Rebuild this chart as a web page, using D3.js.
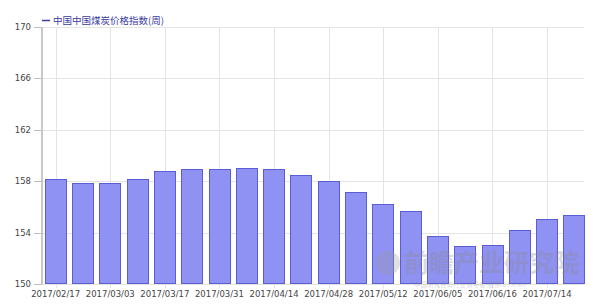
<!DOCTYPE html>
<html>
<head>
<meta charset="utf-8">
<script src="https://cdn.jsdelivr.net/npm/d3@7"></script>
<style>
  body { margin: 0; background: #fff; }
  svg { display: block; font-family: "DejaVu Sans", Verdana, sans-serif; }
</style>
</head>
<body>
<div id="chart"></div>
<script>
const dates = ["2017/02/17", "2017/02/24", "2017/03/03", "2017/03/10", "2017/03/17", "2017/03/24",
    "2017/03/31", "2017/04/07", "2017/04/14", "2017/04/21", "2017/04/28", "2017/05/05",
    "2017/05/12", "2017/05/19", "2017/06/05", "2017/06/09", "2017/06/16", "2017/06/30",
    "2017/07/14", "2017/07/21"];
const values = [158.15, 157.86, 157.86, 158.15, 158.77, 158.95, 158.94, 159.05, 158.94, 158.46,
    158.04, 157.13, 156.25, 155.66, 153.76, 152.96, 153.03, 154.23, 155.08, 155.35];
const xTickLabels = ["2017/02/17", "2017/03/03", "2017/03/17", "2017/03/31", "2017/04/14",
    "2017/04/28", "2017/05/12", "2017/06/05", "2017/06/16", "2017/07/14"];
const yTicks = [150, 154, 158, 162, 166, 170];
const seriesName = "中国中国煤炭价格指数(周)";

const WIDTH = 600, HEIGHT = 308;
const MARGIN = { top: 27, right: 12, bottom: 24, left: 42 };

const svg = d3.select("#chart")
    .append("svg")
    .attr("width", WIDTH)
    .attr("height", HEIGHT);

const x = d3.scaleBand()
    .domain(dates)
    .range([MARGIN.left, WIDTH - MARGIN.right])
    .paddingInner(0.2)
    .paddingOuter(0.1);

const y = d3.scaleLinear()
    .domain([150, 170])
    .range([HEIGHT - MARGIN.bottom, MARGIN.top]);

// horizontal grid
svg.append("g")
    .selectAll("line")
    .data(yTicks)
    .enter()
    .append("line")
    .attr("x1", MARGIN.left)
    .attr("x2", WIDTH - MARGIN.right - 4)
    .attr("y1", d => Math.round(y(d)) + 0.5)
    .attr("y2", d => Math.round(y(d)) + 0.5)
    .attr("stroke", "#e4e4e4");

// vertical grid at labelled dates
svg.append("g")
    .selectAll("line")
    .data(xTickLabels)
    .enter()
    .append("line")
    .attr("x1", d => Math.round(x(d) + x.bandwidth() / 2) + 0.5)
    .attr("x2", d => Math.round(x(d) + x.bandwidth() / 2) + 0.5)
    .attr("y1", MARGIN.top)
    .attr("y2", HEIGHT - MARGIN.bottom + 4)
    .attr("stroke", "#e4e4e4");

// bars
svg.append("g")
    .selectAll("rect")
    .data(values)
    .enter()
    .append("rect")
    .attr("x", (d, i) => Math.round(x(dates[i])) + 0.5)
    .attr("y", d => Math.round(y(d)) + 0.5)
    .attr("width", Math.round(x.bandwidth()) - 1)
    .attr("height", d => y(150) - Math.round(y(d)) - 1)
    .attr("fill", "#8f92f2")
    .attr("stroke", "#5a5ed4")
    .attr("stroke-width", 1);

// watermark, drawn over the bars
const wm = svg.append("g").attr("opacity", 0.3);
wm.append("circle")
    .attr("cx", 388)
    .attr("cy", 263)
    .attr("r", 12)
    .attr("fill", "#9a9a9a");
wm.append("text")
    .attr("x", 404)
    .attr("y", 272)
    .attr("font-family", "Noto Sans CJK SC")
    .attr("font-size", 25)
    .attr("font-weight", "bold")
    .attr("fill", "#8a8a8a")
    .text("前瞻产业研究院");
wm.append("text")
    .attr("x", 414)
    .attr("y", 287)
    .attr("font-family", "Noto Sans CJK SC")
    .attr("font-size", 6.5)
    .attr("fill", "#8a8a8a")
    .text("中国研究咨询行业领导者(股票:835090)");

// y axis
const yAxis = svg.append("g");
yAxis.append("line")
    .attr("x1", MARGIN.left)
    .attr("x2", MARGIN.left)
    .attr("y1", MARGIN.top)
    .attr("y2", HEIGHT - MARGIN.bottom)
    .attr("stroke", "#c8c8c8")
    .attr("stroke-width", 2);
yAxis.selectAll(".tick")
    .data(yTicks)
    .enter()
    .append("line")
    .attr("x1", MARGIN.left - 8)
    .attr("x2", MARGIN.left)
    .attr("y1", d => Math.round(y(d)) + 0.5)
    .attr("y2", d => Math.round(y(d)) + 0.5)
    .attr("stroke", "#c0c0c0");
yAxis.selectAll("text")
    .data(yTicks)
    .enter()
    .append("text")
    .attr("x", MARGIN.left - 11)
    .attr("y", d => y(d) + 3)
    .attr("text-anchor", "end")
    .attr("font-size", 8.5)
    .attr("fill", "#444")
    .text(d => d);

// x axis labels
svg.append("g")
    .selectAll("text")
    .data(xTickLabels)
    .enter()
    .append("text")
    .attr("x", d => x(d) + x.bandwidth() / 2)
    .attr("y", HEIGHT - MARGIN.bottom + 13)
    .attr("text-anchor", "middle")
    .attr("font-size", 8.5)
    .attr("fill", "#444")
    .text(d => d);

// legend
const legend = svg.append("g").attr("transform", `translate(${MARGIN.left}, 20)`);
legend.append("line")
    .attr("x1", 0)
    .attr("x2", 8)
    .attr("y1", 0.5)
    .attr("y2", 0.5)
    .attr("stroke", "#3b3ba0")
    .attr("stroke-width", 1.5);
legend.append("text")
    .attr("x", 11)
    .attr("y", 3.5)
    .attr("font-family", "Noto Sans CJK SC")
    .attr("font-size", 9.5)
    .attr("fill", "#3b3ba0")
    .text(seriesName);
</script>
</body>
</html>
